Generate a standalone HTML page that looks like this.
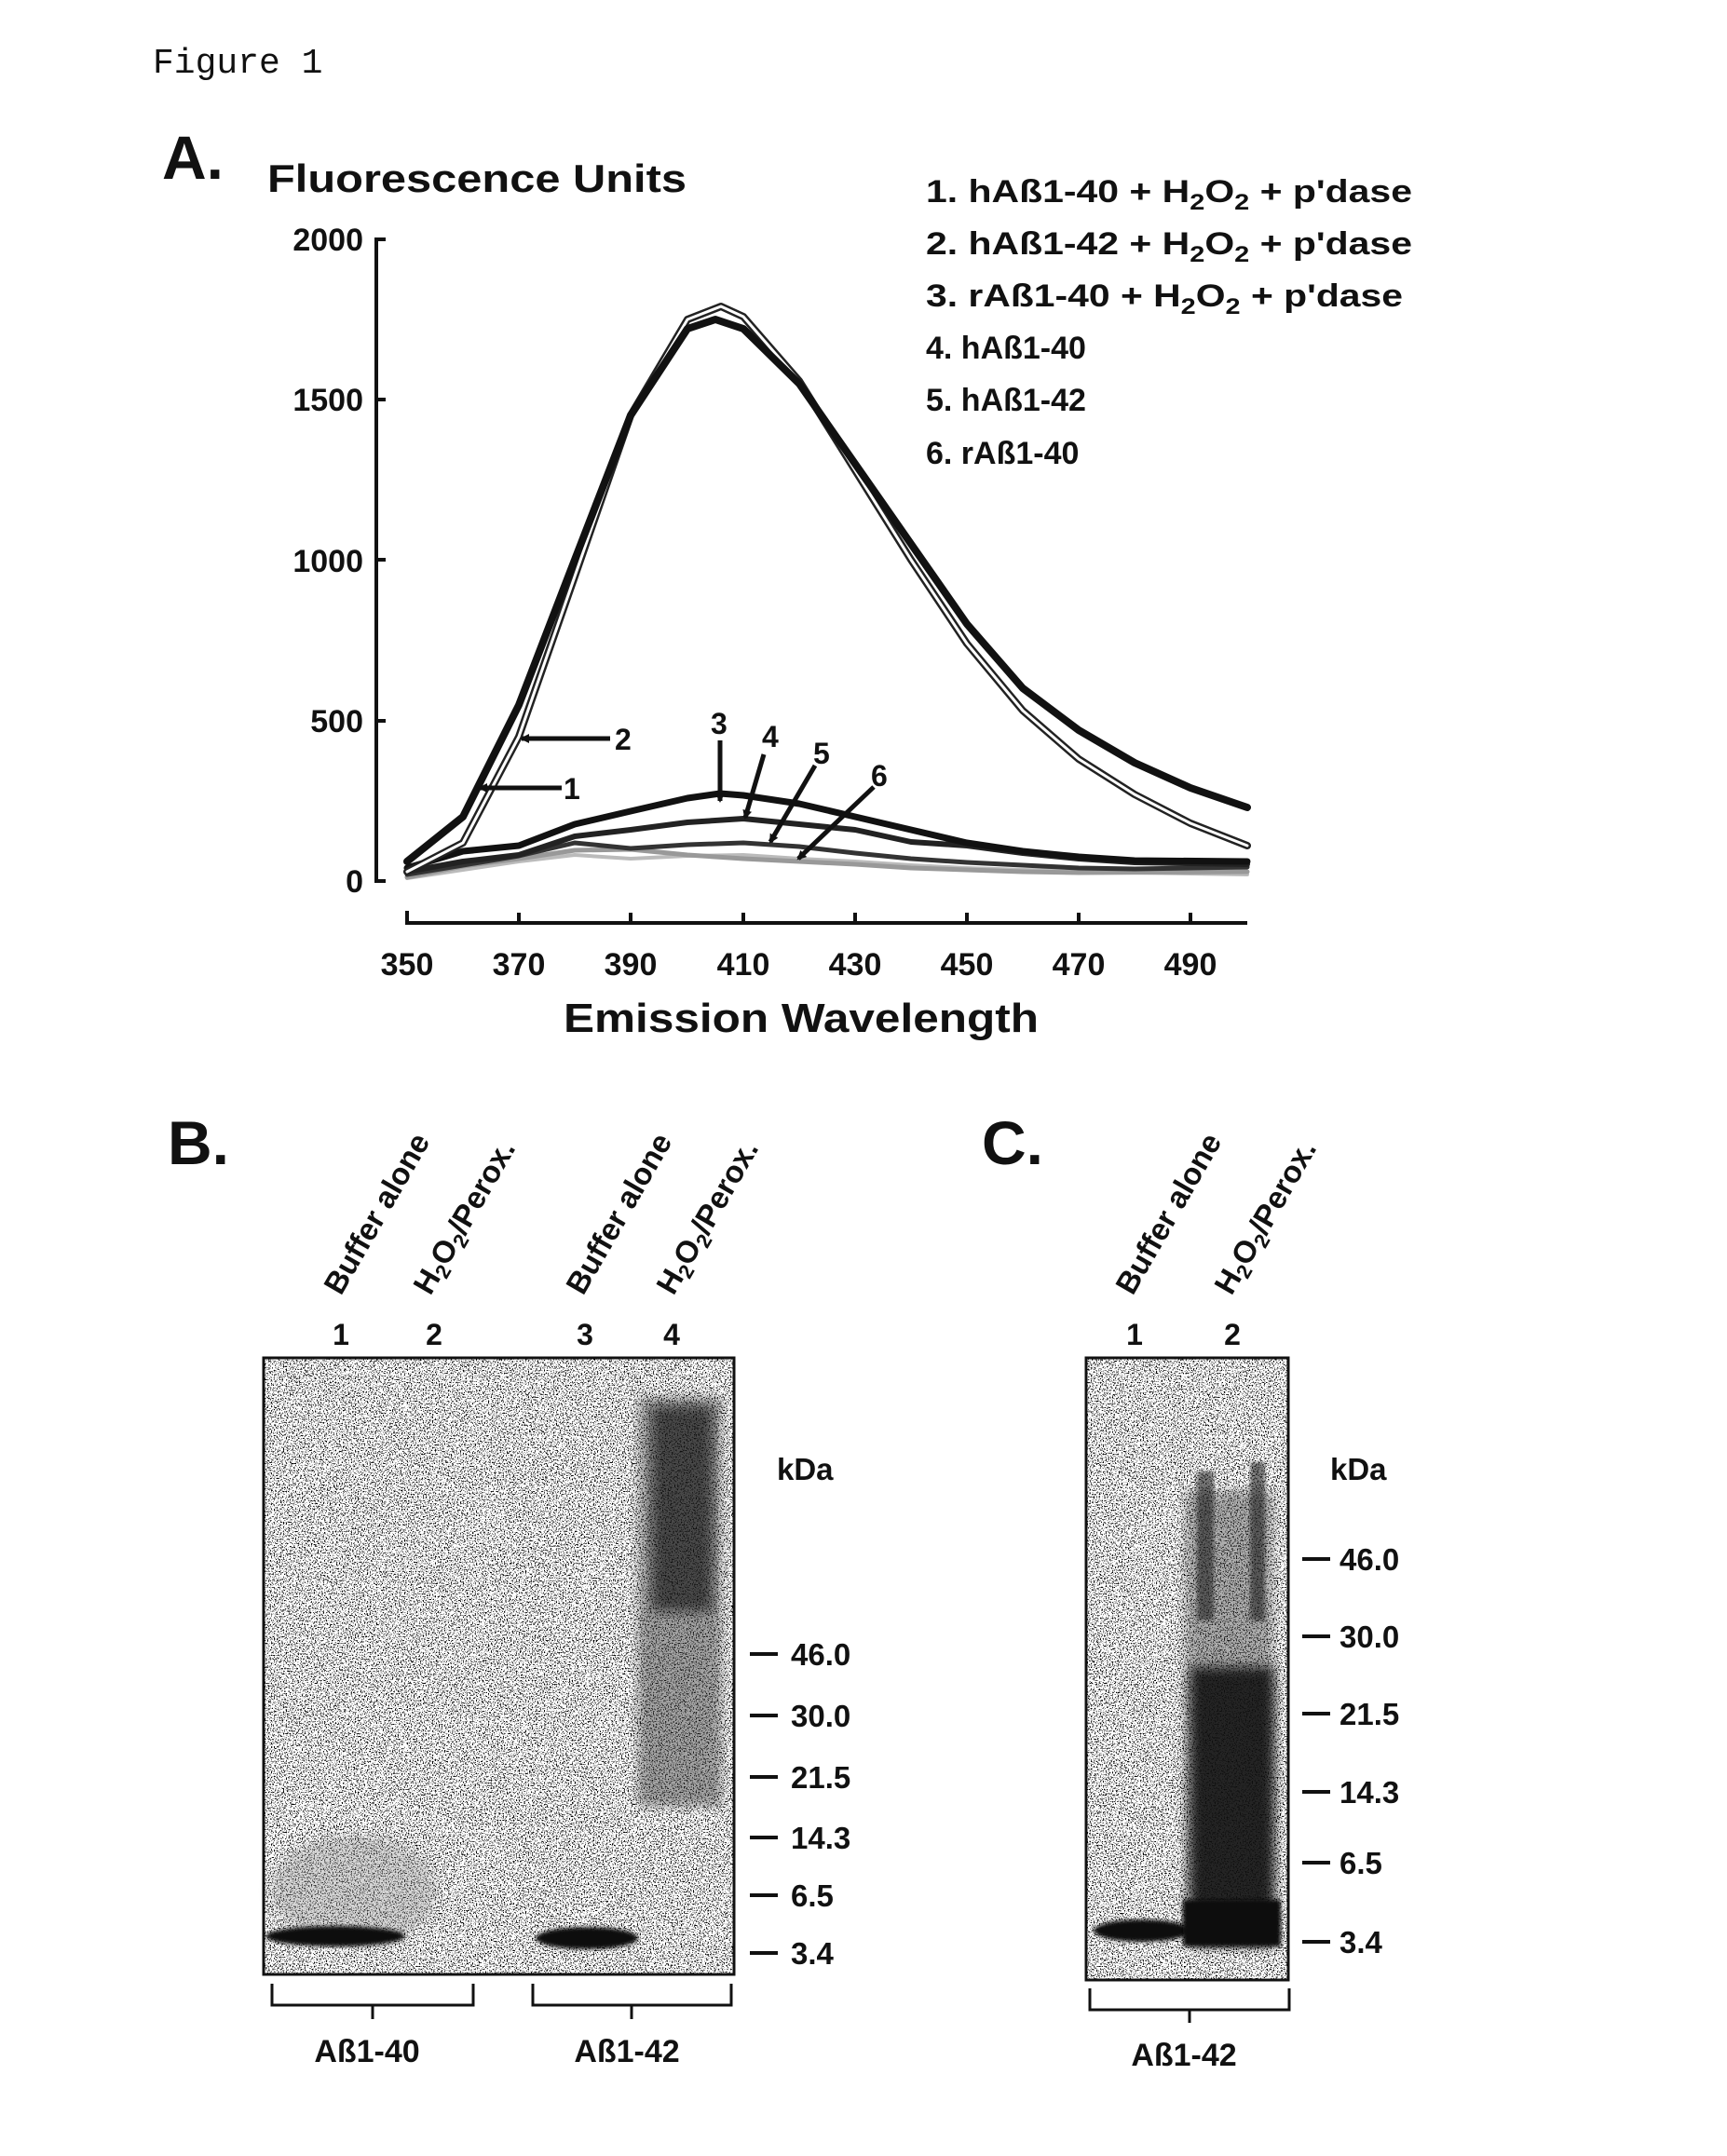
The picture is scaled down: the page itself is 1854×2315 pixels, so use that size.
<!DOCTYPE html>
<html><head><meta charset="utf-8"><style>
html,body{margin:0;padding:0;background:#fff;}
svg{display:block;}
text{font-family:"Liberation Sans",Arial,sans-serif;font-weight:bold;fill:#111;}
</style></head><body>
<svg width="1854" height="2315" viewBox="0 0 1854 2315" xmlns="http://www.w3.org/2000/svg">
<defs>
<filter id="spk" x="0" y="0" width="100%" height="100%">
<feTurbulence type="fractalNoise" baseFrequency="0.7" numOctaves="2" seed="3" result="n"/>
<feColorMatrix in="n" type="matrix" values="0 0 0 0 0  0 0 0 0 0  0 0 0 0 0  0 0 0 -30 12.6" result="a"/>
<feComposite in="a" in2="SourceGraphic" operator="in"/>
</filter>
<filter id="bl"><feGaussianBlur stdDeviation="6"/></filter>
<filter id="bl2"><feGaussianBlur stdDeviation="2"/></filter>
<marker id="ah" markerWidth="10" markerHeight="10" refX="8" refY="5" orient="auto" markerUnits="userSpaceOnUse" viewBox="0 0 10 10"><path d="M0,0 L10,5 L0,10 z" fill="#111"/></marker>
</defs>
<text x="164" y="78" style="font-family:'Liberation Mono',monospace;font-weight:normal;font-size:38px">Figure 1</text>

<text x="174" y="192" font-size="66">A.</text>
<text x="287" y="206" font-size="42" textLength="450" lengthAdjust="spacingAndGlyphs">Fluorescence Units</text>
<g font-size="34">
<text x="994" y="217" textLength="522" lengthAdjust="spacingAndGlyphs">1. hAß1-40 + H<tspan font-size="24" dy="8">2</tspan><tspan dy="-8">O</tspan><tspan font-size="24" dy="8">2</tspan><tspan dy="-8"> + p'dase</tspan></text>
<text x="994" y="273" textLength="522" lengthAdjust="spacingAndGlyphs">2. hAß1-42 + H<tspan font-size="24" dy="8">2</tspan><tspan dy="-8">O</tspan><tspan font-size="24" dy="8">2</tspan><tspan dy="-8"> + p'dase</tspan></text>
<text x="994" y="329" textLength="512" lengthAdjust="spacingAndGlyphs">3. rAß1-40 + H<tspan font-size="24" dy="8">2</tspan><tspan dy="-8">O</tspan><tspan font-size="24" dy="8">2</tspan><tspan dy="-8"> + p'dase</tspan></text>
<text x="994" y="385">4. hAß1-40</text>
<text x="994" y="441">5. hAß1-42</text>
<text x="994" y="498">6. rAß1-40</text>
</g>
<g stroke="#111" stroke-width="4" fill="none">
<line x1="404" y1="255" x2="404" y2="948"/>
<line x1="404" y1="257" x2="414" y2="257"/>
<line x1="404" y1="429" x2="414" y2="429"/>
<line x1="404" y1="601" x2="414" y2="601"/>
<line x1="404" y1="774" x2="414" y2="774"/>
<line x1="404" y1="946" x2="414" y2="946"/>
<line x1="435" y1="991" x2="1339" y2="991"/>
<line x1="437" y1="978" x2="437" y2="991"/>
<line x1="557" y1="980" x2="557" y2="991"/>
<line x1="677" y1="980" x2="677" y2="991"/>
<line x1="798" y1="980" x2="798" y2="991"/>
<line x1="918" y1="980" x2="918" y2="991"/>
<line x1="1038" y1="980" x2="1038" y2="991"/>
<line x1="1158" y1="980" x2="1158" y2="991"/>
<line x1="1278" y1="980" x2="1278" y2="991"/>
</g>
<g font-size="34" text-anchor="end">
<text x="390" y="269">2000</text>
<text x="390" y="441">1500</text>
<text x="390" y="614">1000</text>
<text x="390" y="786">500</text>
<text x="390" y="958">0</text>
</g>
<g font-size="34" text-anchor="middle">
<text x="437" y="1047">350</text><text x="557" y="1047">370</text><text x="677" y="1047">390</text>
<text x="798" y="1047">410</text><text x="918" y="1047">430</text><text x="1038" y="1047">450</text>
<text x="1158" y="1047">470</text><text x="1278" y="1047">490</text>
</g>
<text x="860" y="1108" font-size="44" text-anchor="middle" textLength="510" lengthAdjust="spacingAndGlyphs">Emission Wavelength</text>

<g fill="none" stroke-linejoin="round" stroke-linecap="round">
<polyline stroke="#bbb" stroke-width="4" points="437,943 497,934 557,925 617,918 677,922 738,919 798,918 858,922 918,925 978,929 1038,932 1098,934 1158,935 1218,937 1339,939"/>
<polyline stroke="#999" stroke-width="5" points="437,942 497,930 557,922 617,913 677,912 738,918 798,922 858,925 918,928 978,932 1038,934 1098,936 1158,937 1339,936"/>
<polyline stroke="#333" stroke-width="5" points="437,939 497,929 557,919 617,905 677,911 738,907 798,905 858,909 918,916 978,922 1038,926 1098,929 1158,932 1218,933 1339,931"/>
<polyline stroke="#222" stroke-width="6" points="437,936 497,925 557,918 617,898 677,891 738,883 798,879 858,885 918,891 978,904 1038,908 1098,916 1158,922 1218,926 1339,928"/>
<polyline stroke="#111" stroke-width="7" points="437,932 497,914 557,908 617,885 677,871 738,857 773,852 798,854 858,863 918,877 978,891 1038,905 1098,914 1158,920 1218,924 1339,925"/>
<polyline stroke="#222" stroke-width="8" points="437,936 497,905 557,791 617,619 677,446 738,343 774,329 798,340 858,409 918,505 978,601 1038,691 1098,763 1158,815 1218,853 1278,884 1339,908"/>
<polyline stroke="#fff" stroke-width="3" points="437,936 497,905 557,791 617,619 677,446 738,343 774,329 798,340 858,409 918,505 978,601 1038,691 1098,763 1158,815 1218,853 1278,884 1339,908"/>
<polyline stroke="#111" stroke-width="8" points="437,925 497,877 557,757 617,601 677,446 738,353 768,343 798,353 858,412 918,498 978,584 1038,670 1098,739 1158,784 1218,819 1278,846 1339,867"/>
</g>
<g stroke="#111" stroke-width="5" fill="none" marker-end="url(#ah)">
<line x1="655" y1="793" x2="560" y2="793"/>
<line x1="603" y1="846" x2="515" y2="846"/>
<line x1="773" y1="795" x2="773" y2="860"/>
<line x1="820" y1="810" x2="800" y2="878"/>
<line x1="875" y1="822" x2="827" y2="904"/>
<line x1="938" y1="845" x2="857" y2="922"/>
</g>
<g font-size="32">
<text x="660" y="805">2</text><text x="605" y="858">1</text>
<text x="763" y="788">3</text><text x="818" y="802">4</text>
<text x="873" y="820">5</text><text x="935" y="844">6</text>
</g>

<text x="180" y="1250" font-size="66">B.</text>
<text x="1054" y="1250" font-size="66">C.</text>
<g font-size="33">
<text transform="translate(366,1392) rotate(-60)">Buffer alone</text>
<text transform="translate(462,1392) rotate(-60)">H<tspan font-size="22" dy="6">2</tspan><tspan dy="-6">O</tspan><tspan font-size="22" dy="6">2</tspan><tspan dy="-6">/Perox.</tspan></text>
<text transform="translate(626,1392) rotate(-60)">Buffer alone</text>
<text transform="translate(723,1392) rotate(-60)">H<tspan font-size="22" dy="6">2</tspan><tspan dy="-6">O</tspan><tspan font-size="22" dy="6">2</tspan><tspan dy="-6">/Perox.</tspan></text>
<text transform="translate(1216,1392) rotate(-60)">Buffer alone</text>
<text transform="translate(1322,1392) rotate(-60)">H<tspan font-size="22" dy="6">2</tspan><tspan dy="-6">O</tspan><tspan font-size="22" dy="6">2</tspan><tspan dy="-6">/Perox.</tspan></text>
</g>
<g font-size="32" text-anchor="middle">
<text x="366" y="1444">1</text><text x="466" y="1444">2</text><text x="628" y="1444">3</text><text x="721" y="1444">4</text>
<text x="1218" y="1444">1</text><text x="1323" y="1444">2</text>
</g>
<rect x="283" y="1458" width="505" height="662" fill="#222" filter="url(#spk)"/>
<ellipse cx="380" cy="2030" rx="90" ry="60" fill="#888" opacity="0.35" filter="url(#bl)"/>
<rect x="685" y="1500" width="90" height="440" fill="#333" opacity="0.45" filter="url(#bl)"/>
<rect x="700" y="1510" width="65" height="220" fill="#111" opacity="0.6" filter="url(#bl)"/>
<ellipse cx="360" cy="2079" rx="75" ry="11" fill="#111" filter="url(#bl2)"/>
<ellipse cx="630" cy="2081" rx="55" ry="12" fill="#111" filter="url(#bl2)"/>
<rect x="283" y="1458" width="505" height="662" fill="none" stroke="#111" stroke-width="3"/>
<rect x="1166" y="1458" width="217" height="668" fill="#222" filter="url(#spk)"/>
<rect x="1272" y="1600" width="95" height="470" fill="#333" opacity="0.4" filter="url(#bl)"/>
<rect x="1278" y="1790" width="90" height="300" fill="#111" opacity="0.85" filter="url(#bl)"/>
<rect x="1285" y="1580" width="18" height="160" fill="#222" opacity="0.6" filter="url(#bl2)"/>
<rect x="1342" y="1570" width="16" height="170" fill="#222" opacity="0.6" filter="url(#bl2)"/>
<ellipse cx="1226" cy="2073" rx="52" ry="12" fill="#111" filter="url(#bl2)"/>
<rect x="1270" y="2040" width="105" height="50" fill="#111" filter="url(#bl2)"/>
<rect x="1166" y="1458" width="217" height="668" fill="none" stroke="#111" stroke-width="3"/>
<g stroke="#111" stroke-width="4">
<line x1="805" y1="1776" x2="835" y2="1776"/><line x1="805" y1="1842" x2="835" y2="1842"/>
<line x1="805" y1="1908" x2="835" y2="1908"/><line x1="805" y1="1973" x2="835" y2="1973"/>
<line x1="805" y1="2035" x2="835" y2="2035"/><line x1="805" y1="2097" x2="835" y2="2097"/>
<line x1="1398" y1="1674" x2="1428" y2="1674"/><line x1="1398" y1="1757" x2="1428" y2="1757"/>
<line x1="1398" y1="1840" x2="1428" y2="1840"/><line x1="1398" y1="1924" x2="1428" y2="1924"/>
<line x1="1398" y1="2000" x2="1428" y2="2000"/><line x1="1398" y1="2085" x2="1428" y2="2085"/>
</g>
<g font-size="33">
<text x="834" y="1589">kDa</text>
<text x="849" y="1788">46.0</text><text x="849" y="1854">30.0</text><text x="849" y="1920">21.5</text>
<text x="849" y="1985">14.3</text><text x="849" y="2047">6.5</text><text x="849" y="2109">3.4</text>
<text x="1428" y="1589">kDa</text>
<text x="1438" y="1686">46.0</text><text x="1438" y="1769">30.0</text><text x="1438" y="1852">21.5</text>
<text x="1438" y="1936">14.3</text><text x="1438" y="2012">6.5</text><text x="1438" y="2097">3.4</text>
</g>
<g stroke="#111" stroke-width="3" fill="none">
<path d="M292,2130 V2153 H508 V2130 M400,2153 V2168"/>
<path d="M572,2130 V2153 H785 V2130 M678,2153 V2168"/>
<path d="M1170,2135 V2158 H1384 V2135 M1277,2158 V2172"/>
</g>
<g font-size="34" text-anchor="middle">
<text x="394" y="2214">Aß1-40</text>
<text x="673" y="2214">Aß1-42</text>
<text x="1271" y="2218">Aß1-42</text>
</g>
</svg>
</body></html>
